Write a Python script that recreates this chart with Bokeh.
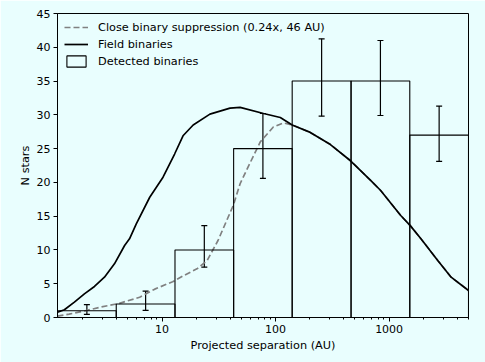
import numpy as np
from bokeh.plotting import figure
from bokeh.models import (Whisker, TeeHead, ColumnDataSource, FixedTicker,
                          PrintfTickFormatter)
from bokeh.embed import file_html
from bokeh.resources import INLINE

# ---- data ----
bin_edges = [1.2, 3.95, 13.0, 42.7, 140, 462, 1520, 5000]
counts = [1, 2, 10, 25, 35, 35, 27]
err_low = [0.45, 1.05, 7.45, 20.6, 29.8, 29.9, 23.1]
err_high = [1.9, 3.9, 13.6, 30.2, 41.25, 41.0, 31.3]

field_au = [1.20, 1.38, 1.69, 2.07, 2.54, 3.11, 3.81, 4.68, 5.17, 5.93, 7.79,
            10.2, 12.9, 15.3, 18.8, 26.4, 39.7, 48.7, 78.3, 110, 140, 202,
            304, 457, 687, 842, 1265, 1535, 1906, 2680, 3515, 5000]
field_n = [0.78, 1.14, 2.27, 3.5, 4.59, 5.97, 7.95, 10.66, 11.65, 13.87, 17.8,
           20.77, 24.2, 26.9, 28.5, 30.1, 31.0, 31.1, 30.2, 29.6, 28.5, 27.4,
           25.6, 23.2, 20.3, 18.8, 15.1, 13.6, 11.65, 8.44, 5.97, 4.0]

supp_au = [1.20, 1.52, 2.11, 2.81, 4.22, 6.35, 8.62, 12.4, 15.9, 20.3, 24.9,
           31.1, 42.4, 48.7, 56.2, 73.3, 95.5, 117, 140, 202, 304, 457, 687,
           842, 1265, 1535, 1906, 2680, 3515, 5000]
supp_n = [0.2, 0.5, 1.0, 1.5, 2.1, 3.0, 4.2, 5.3, 6.3, 7.2, 8.4, 11.4, 16.6,
          19.8, 22.0, 26.0, 28.2, 28.8, 28.5, 27.4, 25.6, 23.2, 20.3, 18.8,
          15.1, 13.6, 11.65, 8.44, 5.97, 4.0]

x_ticks = [10, 100, 1000]
x_minor = [2, 3, 4, 5, 6, 7, 8, 9, 20, 30, 40, 50, 60, 70, 80, 90,
           200, 300, 400, 500, 600, 700, 800, 900, 2000, 3000, 4000, 5000]
y_ticks = [0, 5, 10, 15, 20, 25, 30, 35, 40, 45]

BG = "#e9fefe"
FONT = "DejaVu Sans"

p = figure(width=485, height=362, x_axis_type="log", x_range=(1.2, 5000),
           y_range=(0, 45), output_backend="svg", toolbar_location=None,
           min_border_left=57, min_border_right=17, min_border_top=13,
           min_border_bottom=45)
p.background_fill_color = BG
p.border_fill_color = BG
p.outline_line_color = "black"
p.outline_line_width = 1
p.outline_line_alpha = 1
p.grid.visible = False

p.line(supp_au, supp_n, line_color="#808080", line_width=1.7,
       line_dash="6 3", legend_label="Close binary suppression (0.24x, 46 AU)")
p.line(field_au, field_n, line_color="black", line_width=1.7,
       legend_label="Field binaries")
p.quad(left=bin_edges[:-1], right=bin_edges[1:], bottom=0, top=counts,
       fill_alpha=0, line_color="black", line_width=1.1,
       legend_label="Detected binaries")

edges = np.array(bin_edges, dtype=float)
centers = np.sqrt(edges[:-1] * edges[1:])
src = ColumnDataSource(dict(base=centers, lower=err_low, upper=err_high))
w = Whisker(source=src, base="base", lower="lower", upper="upper",
            line_color="black", line_width=1.2,
            upper_head=TeeHead(size=6, line_color="black", line_width=1.2),
            lower_head=TeeHead(size=6, line_color="black", line_width=1.2))
p.add_layout(w)

# axes
p.xaxis.ticker = FixedTicker(ticks=x_ticks, minor_ticks=x_minor)
p.xaxis.formatter = PrintfTickFormatter(format="%d")
p.yaxis.ticker = FixedTicker(ticks=y_ticks, minor_ticks=[])
for ax in (p.xaxis, p.yaxis):
    ax.major_label_text_font = FONT
    ax.major_label_text_font_size = "11px"
    ax.major_label_text_color = "black"
    ax.axis_line_color = "black"
    ax.major_tick_line_color = "black"
    ax.minor_tick_line_color = "black"
    ax.major_tick_in = 0
    ax.major_tick_out = 4
    ax.minor_tick_in = 0
    ax.minor_tick_out = 2
    ax.major_label_standoff = 3
    ax.axis_label_text_font = FONT
    ax.axis_label_text_font_size = "11.3px"
    ax.axis_label_text_font_style = "normal"
    ax.axis_label_text_color = "black"
p.yaxis.minor_tick_line_color = None

p.xaxis.axis_label = "Projected separation (AU)"
p.xaxis.axis_label_standoff = 3
p.yaxis.axis_label = "N stars"
p.yaxis.axis_label_standoff = 2

lg = p.legend[0]
lg.location = "top_left"
lg.margin = 7
lg.padding = 2
lg.border_line_color = None
lg.background_fill_alpha = 0
lg.label_text_font = FONT
lg.label_text_font_size = "11.3px"
lg.label_text_color = "black"
lg.label_standoff = 10
lg.glyph_width = 24
lg.glyph_height = 14
lg.label_height = 14
lg.spacing = 3

html = file_html(p, INLINE)
html = html.replace("<body>", '<body style="background-color:%s">' % BG, 1)
open("out.html", "w").write(html)
